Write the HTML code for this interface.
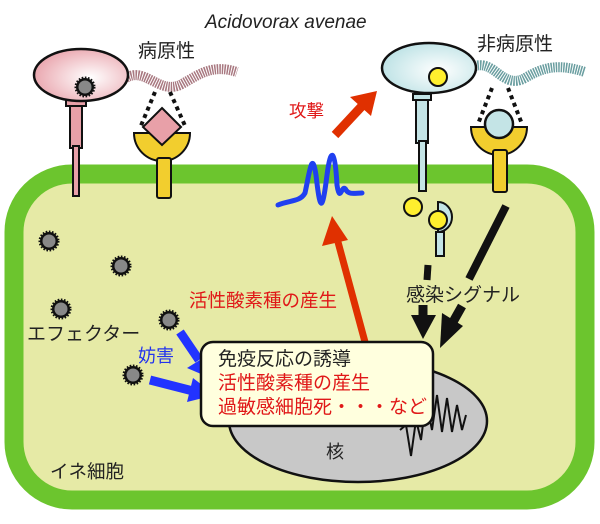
<!DOCTYPE html>
<html><head><meta charset="utf-8"><style>
html,body{margin:0;padding:0;background:#fff;}
svg{display:block;}
text{font-family:"Liberation Sans","Noto Sans CJK JP",sans-serif;}
</style></head><body>
<svg width="600" height="524" viewBox="0 0 600 524" xmlns="http://www.w3.org/2000/svg">
<defs>
<radialGradient id="pk" cx="0.6" cy="0.55" r="0.6"><stop offset="0" stop-color="#fff"/><stop offset="1" stop-color="#eaa8b0"/></radialGradient>
<radialGradient id="bl" cx="0.6" cy="0.55" r="0.6"><stop offset="0" stop-color="#fff"/><stop offset="1" stop-color="#bfe3e6"/></radialGradient>
<g id="eff">
<circle r="9" fill="#111" stroke="#111" stroke-width="3" stroke-dasharray="1.5 1.5"/>
<circle r="6.5" fill="#888"/>
</g>
</defs>
<!-- cell -->
<rect x="14" y="174" width="571" height="326" rx="58" fill="#e6eaa6" stroke="#6cc52e" stroke-width="19"/>
<!-- nucleus -->
<ellipse cx="358" cy="421" rx="129" ry="61" fill="#c8c8c8" stroke="#111" stroke-width="2.5"/>
<path d="M400,430 L406,425 L411,456 L416,420 L421,440 L426,400 L432,430 L437,395 L442,432 L447,398 L452,432 L457,405 L462,430 L466,415" fill="none" stroke="#111" stroke-width="2"/>
<text x="326" y="458" font-size="18" fill="#222">核</text>
<!-- pathogen -->
<path d="M126,78 C145,66 160,96 182,84 C200,74 212,64 237,72" fill="none" stroke="#a87880" stroke-width="10" stroke-dasharray="1.5 1"/>
<rect x="70" y="100" width="12" height="48" fill="#e8a0a8" stroke="#111" stroke-width="2"/>
<rect x="73" y="146" width="6" height="50" fill="#e8a0a8" stroke="#111" stroke-width="2"/>
<rect x="66" y="100" width="20" height="6" fill="#e8a0a8" stroke="#111" stroke-width="2"/>
<ellipse cx="81" cy="75" rx="47" ry="26" fill="url(#pk)" stroke="#111" stroke-width="2.5"/>
<use href="#eff" x="85" y="87"/>
<path d="M155,92 L140,128 M170,92 L186,128" stroke="#111" stroke-width="4" stroke-dasharray="4 4"/>
<path d="M134,133 A28,28 0 0 0 190,133 Z" fill="#f2ce2e" stroke="#111" stroke-width="2"/>
<rect x="157" y="158" width="14" height="40" rx="2" fill="#f2ce2e" stroke="#111" stroke-width="2"/>
<path d="M162,108 L181,127 L162,145 L143,127 Z" fill="#e8a0a8" stroke="#111" stroke-width="2"/>
<!-- non-pathogen -->
<path d="M475,66 C495,60 503,90 525,78 C545,66 560,64 585,72" fill="none" stroke="#6a9ea0" stroke-width="10" stroke-dasharray="1.5 1"/>
<rect x="416" y="95" width="12" height="48" fill="#c4e4e6" stroke="#111" stroke-width="2"/>
<rect x="419" y="141" width="7" height="50" fill="#c4e4e6" stroke="#111" stroke-width="2"/>
<rect x="413" y="94" width="18" height="6" fill="#c4e4e6" stroke="#111" stroke-width="2"/>
<ellipse cx="429" cy="68" rx="47" ry="25" fill="url(#bl)" stroke="#111" stroke-width="2.5"/>
<circle cx="438" cy="77" r="9" fill="#ffef2e" stroke="#111" stroke-width="2"/>
<path d="M492,88 L478,124 M508,88 L522,124" stroke="#111" stroke-width="4" stroke-dasharray="4 4"/>
<path d="M471,127 A28,28 0 0 0 527,127 Z" fill="#f2ce2e" stroke="#111" stroke-width="2"/>
<rect x="493" y="150" width="14" height="42" rx="2" fill="#f2ce2e" stroke="#111" stroke-width="2"/>
<circle cx="499" cy="124" r="14" fill="#c4e4e6" stroke="#111" stroke-width="2.5"/>
<!-- small receptor -->
<rect x="436" y="232" width="8" height="24" fill="#c4e4e6" stroke="#111" stroke-width="2"/>
<path d="M438,202 A14,15 0 0 1 438,232 Z" fill="#c4e4e6" stroke="#111" stroke-width="2"/>
<circle cx="413" cy="207" r="9" fill="#ffef2e" stroke="#111" stroke-width="2"/>
<circle cx="438" cy="220" r="9" fill="#ffef2e" stroke="#111" stroke-width="2"/>
<!-- black arrows -->
<path d="M428,265 L427,280" stroke="#111" stroke-width="7"/>
<path d="M506,206 L469,279" stroke="#111" stroke-width="8"/>
<path d="M423,305 L423,318" stroke="#111" stroke-width="9"/>
<polygon points="411,315 436,315 423,339" fill="#111"/>
<path d="M462,306 L453,322" stroke="#111" stroke-width="9"/>
<polygon points="442,313 463,326 440,348" fill="#111"/>
<text x="406" y="301" font-size="19" fill="#222">感染シグナル</text>
<!-- red arrows -->
<path d="M365,342 L338,242" stroke="#e03000" stroke-width="7"/>
<polygon points="322,246 348,240 332,216" fill="#e03000"/>
<path d="M335,135 L362,106" stroke="#e03000" stroke-width="9"/>
<polygon points="350,97 371,116 377,91" fill="#e03000"/>
<text x="289" y="117" font-size="17.5" fill="#e01818">攻撃</text>
<!-- blue wave -->
<path d="M278,205 C290,200 300,202 305,193 C310,170 312,150 316,175 C320,210 322,215 327,175 C331,145 335,150 337,185 C340,205 342,182 346,190 C349,195 355,193 362,193" fill="none" stroke="#2040f0" stroke-width="5" stroke-linecap="round"/>
<text x="189" y="307" font-size="18.5" fill="#e01818">活性酸素種の産生</text>
<!-- effectors -->
<use href="#eff" x="49" y="241"/>
<use href="#eff" x="121" y="266"/>
<use href="#eff" x="61" y="309"/>
<use href="#eff" x="169" y="320"/>
<use href="#eff" x="133" y="375"/>
<text x="27" y="340" font-size="19" fill="#222">エフェクター</text>
<text x="138" y="362" font-size="18" fill="#2233ee">妨害</text>
<!-- blue arrows -->
<path d="M180,332 L199,360" stroke="#2233ff" stroke-width="9"/>
<polygon points="187,368 208,355 215,380" fill="#2233ff"/>
<path d="M150,380 L193,391" stroke="#2233ff" stroke-width="9"/>
<polygon points="187,402 193,378 215,395" fill="#2233ff"/>
<!-- box -->
<rect x="201" y="342" width="232" height="84" rx="12" fill="#ffffde" stroke="#111" stroke-width="2.5"/>
<text x="218" y="365" font-size="19" fill="#222">免疫反応の誘導</text>
<text x="218" y="389" font-size="19" fill="#e01818">活性酸素種の産生</text>
<text x="218" y="413" font-size="19" fill="#e01818">過敏感細胞死・・・など</text>
<!-- labels -->
<text x="205" y="28" font-size="19" font-style="italic" fill="#222">Acidovorax avenae</text>
<text x="138" y="57" font-size="19" fill="#222">病原性</text>
<text x="477" y="50" font-size="19" fill="#222">非病原性</text>
<text x="50" y="478" font-size="18.5" fill="#222">イネ細胞</text>
</svg>
</body></html>
